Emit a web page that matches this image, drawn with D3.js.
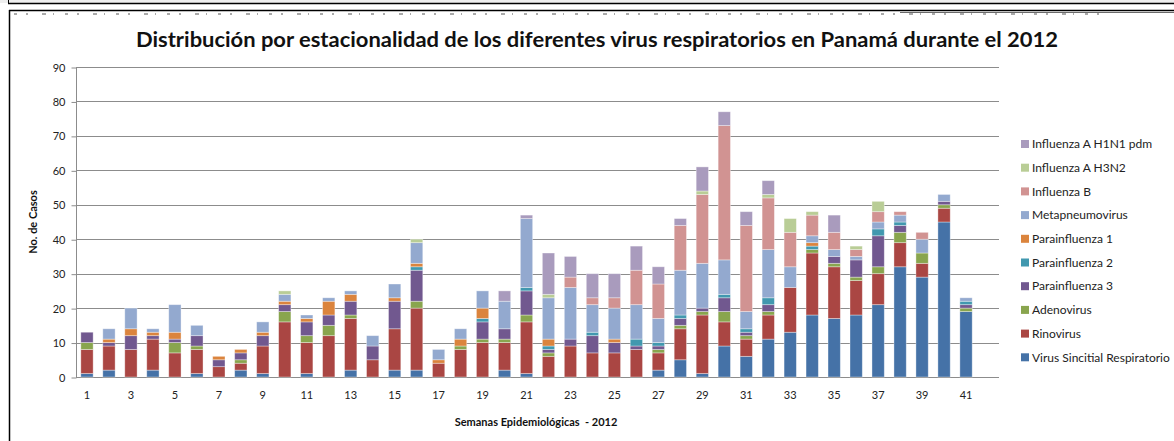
<!DOCTYPE html>
<html>
<head>
<meta charset="utf-8">
<script src="https://cdn.jsdelivr.net/npm/d3@7"></script>
<style>
  html, body { margin: 0; padding: 0; background: #fff; }
  svg { display: block; }
</style>
</head>
<body>
<svg id="chart" width="1174" height="441"></svg>
<script>
(function () {
  'use strict';

  // semanas 1..42 (la 42 queda vacia en el original)
  var weeks = [1, 2, 3, 4, 5, 6, 7, 8, 9, 10, 11, 12, 13, 14, 15, 16, 17, 18, 19, 20, 21,
    22, 23, 24, 25, 26, 27, 28, 29, 30, 31, 32, 33, 34, 35, 36, 37, 38, 39, 40, 41, 42];
  var weekTicks = [1, 3, 5, 7, 9, 11, 13, 15, 17, 19, 21, 23, 25, 27, 29, 31, 33, 35, 37, 39, 41];
  var yTicks = [0, 10, 20, 30, 40, 50, 60, 70, 80, 90];

  var vsr = [1, 2, 0, 2, 0, 1, 0, 2, 1, 0, 1, 0, 2, 0, 2, 2, 0, 0, 0, 2, 1, 0, 0, 0, 0, 0, 2, 5, 1, 9, 6, 11, 13, 18, 17, 18, 21, 32, 29, 45, 19];
  var rinovirus = [7, 7, 8, 9, 7, 7, 3, 2, 8, 16, 9, 12, 15, 5, 12, 18, 4, 8, 10, 8, 15, 6, 9, 7, 7, 8, 5, 9, 17, 7, 5, 7, 13, 18, 15, 10, 9, 7, 4, 4, 0];
  var adenovirus = [2, 0, 0, 0, 3, 1, 0, 1, 0, 3, 2, 3, 1, 0, 0, 2, 0, 1, 1, 1, 2, 1, 0, 0, 0, 0, 1, 1, 1, 3, 1, 1, 0, 1, 1, 1, 2, 3, 3, 1, 1];
  var para3 = [3, 1, 4, 1, 1, 3, 2, 2, 3, 2, 4, 3, 4, 4, 8, 9, 0, 0, 5, 3, 7, 1, 2, 5, 3, 1, 1, 2, 1, 4, 1, 2, 0, 0, 2, 5, 9, 2, 0, 1, 1];
  var para2 = [0, 0, 0, 0, 0, 0, 0, 0, 0, 0, 0, 0, 0, 0, 0, 1, 0, 0, 1, 0, 1, 1, 0, 1, 0, 2, 1, 1, 0, 1, 1, 2, 0, 1, 0, 0, 2, 1, 0, 0, 1];
  var para1 = [0, 1, 2, 1, 2, 0, 1, 1, 1, 1, 1, 4, 2, 0, 1, 1, 1, 2, 3, 0, 0, 2, 0, 0, 1, 0, 0, 0, 0, 0, 0, 0, 0, 1, 0, 0, 0, 0, 0, 0, 0];
  var metapneumo = [0, 3, 6, 1, 8, 3, 0, 0, 3, 2, 1, 1, 1, 3, 4, 6, 3, 3, 5, 8, 20, 12, 15, 8, 9, 10, 7, 13, 13, 10, 5, 14, 6, 2, 2, 1, 2, 2, 4, 2, 1];
  var fluB = [0, 0, 0, 0, 0, 0, 0, 0, 0, 0, 0, 0, 0, 0, 0, 0, 0, 0, 0, 0, 0, 0, 3, 2, 3, 10, 10, 13, 20, 39, 25, 15, 10, 6, 5, 2, 3, 1, 2, 0, 0];
  var h3n2 = [0, 0, 0, 0, 0, 0, 0, 0, 0, 1, 0, 0, 0, 0, 0, 1, 0, 0, 0, 0, 0, 1, 0, 0, 0, 0, 0, 0, 1, 0, 0, 1, 4, 1, 0, 1, 3, 0, 0, 0, 0];
  var h1n1 = [0, 0, 0, 0, 0, 0, 0, 0, 0, 0, 0, 0, 0, 0, 0, 0, 0, 0, 0, 3, 1, 12, 6, 7, 7, 7, 5, 2, 7, 4, 4, 4, 0, 0, 5, 0, 0, 0, 0, 0, 0];

  // orden de apilado, de abajo hacia arriba
  var series = [
    { key: 'vsr', name: 'Virus Sincitial Respiratorio', color: '#4572A7', values: vsr },
    { key: 'rino', name: 'Rinovirus', color: '#AA4643', values: rinovirus },
    { key: 'adeno', name: 'Adenovirus', color: '#89A54E', values: adenovirus },
    { key: 'p3', name: 'Parainfluenza 3', color: '#71588F', values: para3 },
    { key: 'p2', name: 'Parainfluenza 2', color: '#4198AF', values: para2 },
    { key: 'p1', name: 'Parainfluenza 1', color: '#DB843D', values: para1 },
    { key: 'meta', name: 'Metapneumovirus', color: '#93A9CF', values: metapneumo },
    { key: 'flub', name: 'Influenza B', color: '#D19392', values: fluB },
    { key: 'h3n2', name: 'Influenza A H3N2', color: '#B9CD96', values: h3n2 },
    { key: 'h1n1', name: 'Influenza A H1N1 pdm', color: '#A99BBD', values: h1n1 }
  ];

  var rows = vsr.map(function (v, i) {
    var r = { week: weeks[i] };
    series.forEach(function (s) { r[s.key] = s.values[i]; });
    return r;
  });

  var svg = d3.select('#chart');
  var font = 'Lato, "Open Sans", sans-serif';

  // marco de la pagina
  svg.append('rect').attr('x', 0).attr('y', 0).attr('width', 1174).attr('height', 3).attr('fill', '#eeeeee');
  svg.append('line').attr('x1', 8).attr('x2', 1174).attr('y1', 3.5).attr('y2', 3.5).attr('stroke', '#000').attr('stroke-width', 1.5);
  svg.append('line').attr('x1', 8.5).attr('x2', 8.5).attr('y1', 0).attr('y2', 4).attr('stroke', '#000');
  svg.append('line').attr('x1', 9).attr('x2', 1174).attr('y1', 10.5).attr('y2', 10.5).attr('stroke', '#000').attr('stroke-width', 1.5);
  svg.append('line').attr('x1', 900).attr('x2', 1174).attr('y1', 12.5).attr('y2', 12.5).attr('stroke', '#444').attr('stroke-width', 0.8);
  svg.append('line').attr('x1', 9.5).attr('x2', 9.5).attr('y1', 10).attr('y2', 441).attr('stroke', '#000').attr('stroke-width', 1.5);
  svg.append('line').attr('x1', 14).attr('x2', 1100).attr('y1', 14).attr('y2', 14)
    .attr('stroke', '#555').attr('stroke-width', 1).attr('stroke-dasharray', '3 9 2 14 4 7 1 11');

  var x = d3.scaleBand().domain(weeks).range([76, 999]).paddingInner(0.44).paddingOuter(0.22);
  var y = d3.scaleLinear().domain([0, 90]).range([377, 67]);

  // lineas de division
  svg.append('g').selectAll('line').data(yTicks.slice(1)).enter().append('line')
    .attr('x1', 76).attr('x2', 999)
    .attr('y1', function (d) { return Math.round(y(d)) + 0.5; })
    .attr('y2', function (d) { return Math.round(y(d)) + 0.5; })
    .attr('stroke', '#8c8c8c').attr('stroke-width', 1);

  var yAxis = svg.append('g').attr('transform', 'translate(76.5,0.5)')
    .call(d3.axisLeft(y).tickValues(yTicks).tickSize(5).tickPadding(6));
  yAxis.select('.domain').attr('stroke', '#8c8c8c').attr('d', 'M0,' + Math.round(y(90)) + 'V' + Math.round(y(0)));
  yAxis.selectAll('.tick line').attr('stroke', '#8c8c8c');
  yAxis.selectAll('.tick text').attr('font-family', font).attr('font-size', 11).attr('fill', '#222');

  var xAxis = svg.append('g').attr('transform', 'translate(0,' + (Math.round(y(0)) + 0.5) + ')')
    .call(d3.axisBottom(x).tickValues(weekTicks).tickSize(0).tickPadding(14));
  xAxis.select('.domain').attr('stroke', '#8c8c8c').attr('d', 'M76,0H999');
  xAxis.selectAll('.tick text').attr('font-family', font).attr('font-size', 11).attr('fill', '#222');

  var stack = d3.stack().keys(series.map(function (s) { return s.key; }));
  var layers = stack(rows);

  svg.append('g').selectAll('g').data(layers).enter().append('g')
    .attr('fill', function (d, i) { return series[i].color; })
    .selectAll('rect')
    .data(function (d) { return d.filter(function (p) { return p[1] > p[0]; }); })
    .enter().append('rect')
    .attr('x', function (d) { return x(d.data.week); })
    .attr('width', x.bandwidth())
    .attr('y', function (d) { return y(d[1]); })
    .attr('height', function (d) { return y(d[0]) - y(d[1]); })
    .attr('stroke', 'rgba(255,255,255,0.45)').attr('stroke-width', 0.8);

  // titulos
  svg.append('text').attr('x', 597).attr('y', 47).attr('text-anchor', 'middle')
    .attr('font-family', font).attr('font-weight', 'bold').attr('font-size', 21).attr('fill', '#111')
    .attr('textLength', 922).attr('lengthAdjust', 'spacingAndGlyphs')
    .text('Distribución por estacionalidad de los diferentes virus respiratorios en Panamá durante el 2012');

  svg.append('text').attr('transform', 'translate(37,222) rotate(-90)').attr('text-anchor', 'middle')
    .attr('font-family', font).attr('font-weight', 'bold').attr('font-size', 11).attr('fill', '#111')
    .text('No. de Casos');

  svg.append('text').attr('x', 536).attr('y', 426).attr('text-anchor', 'middle')
    .attr('font-family', font).attr('font-weight', 'bold').attr('font-size', 11).attr('fill', '#111')
    .attr('xml:space', 'preserve')
    .text('Semanas Epidemiológicas  - 2012');

  // leyenda (en orden inverso)
  var legend = svg.append('g').selectAll('g').data(series.slice().reverse()).enter().append('g')
    .attr('transform', function (d, i) { return 'translate(1021,' + (144 + i * 23.7) + ')'; });
  legend.append('rect').attr('x', 0).attr('y', -4).attr('width', 8).attr('height', 8)
    .attr('fill', function (d) { return d.color; });
  legend.append('text').attr('x', 11).attr('y', 0).attr('dy', '0.35em')
    .attr('font-family', font).attr('font-size', 12).attr('fill', '#222')
    .text(function (d) { return d.name; });
})();
</script>
</body>
</html>
